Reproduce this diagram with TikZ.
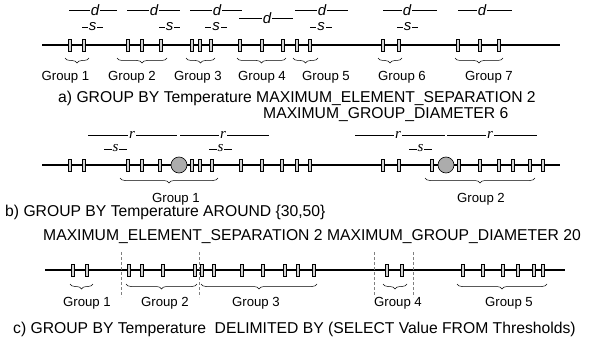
\documentclass[tikz,border=0pt]{standalone}
\usepackage{fontspec}
\setmainfont{Liberation Sans}
\newfontfamily\timesit{Liberation Serif}
\usetikzlibrary{decorations.pathreplacing}

\begin{document}
\begin{tikzpicture}[x=1pt,y=-1pt,
  axisline/.style={line width=2.1pt},
  elem/.style={draw,fill=gray!35,line width=0.5pt},
  centre/.style={draw,fill=gray!65,line width=0.6pt},
  meas/.style={line width=0.7pt},
  grp/.style={decorate,decoration={brace,mirror,amplitude=5pt},line width=0.5pt},
  lab/.style={font=\fontsize{13.2}{15}\selectfont,anchor=base,inner sep=0pt},
  captxt/.style={font=\fontsize{15.7}{18}\selectfont,anchor=base west,inner sep=0pt},
  dlab/.style={fill=white,inner sep=1pt,font=\fontsize{15}{15}\selectfont\itshape},
  rlab/.style={fill=white,inner sep=1pt,font=\fontsize{15}{15}\selectfont\timesit\itshape},
  delim/.style={gray,densely dashed,line width=0.6pt}]
  \useasboundingbox (0,0) rectangle (599,345);

  % a) separation and diameter
  \draw[axisline] (42,45) -- (560,45);
  \foreach \x in {70,84,128,142,161,192,200,211,240,262,283,297,310,383,399,458,480,499}
    \draw[elem] (\x-1.4,39) rectangle (\x+1.4,51.5);
  \foreach \a/\b/\m/\y [count=\i] in {69/117/95/10,127/180/154/10,190/242/217/10,
      239/293/267/18,295/348/322/10,383/437/407/10,458/512/482/10}
    {\draw[meas] (\a,\y) -- (\b,\y); \node[dlab] (da\i) at (\m,\y) {d};}
  \foreach \a/\b [count=\i] in {82/103,159/180,205/227,310/332,397/418}
    {\draw[meas] (\a,27) -- (\b,27); \node[dlab] (sa\i) at ({(\a+\b)/2},26.5) {s};}
  \foreach \a/\b/\m [count=\i] in {65/89/65.5,117/167/132,186/215/198,237/286/262,
      293/318/326,378/402/402,455/503/489}
    {\draw[grp] (\a,58) -- (\b,58); \node[lab] (ga\i) at (\m,80) {Group \i};}
  \node[captxt] (capa1) at (58,102) {a) GROUP BY Temperature MAXIMUM\_ELEMENT\_SEPARATION 2};
  \node[captxt] (capa2) at (263,118) {MAXIMUM\_GROUP\_DIAMETER 6};

  % b) around given centres
  \draw[axisline] (42,165) -- (560,165);
  \foreach \x in {70,84,128,142,160,192,200,212,241,262,282,297,310,383,399,432,459,480,499,513,530,543}
    \draw[elem] (\x-1.4,159) rectangle (\x+1.4,171.5);
  \foreach \x [count=\i] in {179,446}
    \draw[centre] (\x,165) circle (8);
  \foreach \a/\b/\m [count=\i] in {88/177/132,180/269/223,355/445/398,447/537/490}
    {\draw[meas] (\a,135) -- (\b,135); \node[rlab] (rb\i) at (\m,134.5) {r};}
  \foreach \a/\b [count=\i] in {104/127,209/232,409/432}
    {\draw[meas] (\a,149) -- (\b,149); \node[rlab] (sb\i) at ({(\a+\b)/2},148) {s};}
  \foreach \a/\b/\m [count=\i] in {120/218/176,425/535/481}
    {\draw[grp] (\a,178) -- (\b,178); \node[lab] (gb\i) at (\m,202) {Group \i};}
  \node[captxt] (capb1) at (5,216) {b) GROUP BY Temperature AROUND \{30,50\}};
  \node[captxt] (capb2) at (43,240) {MAXIMUM\_ELEMENT\_SEPARATION 2 MAXIMUM\_GROUP\_DIAMETER 20};

  % c) delimited by thresholds
  \draw[axisline] (45,270) -- (565,270);
  \foreach \x in {121,199,374,413}
    \draw[delim] (\x,252) -- (\x,297);
  \foreach \x in {73,87,129,142,163,195,202,214,242,263,285,298,314,387,402,463,483,503,518,534,543}
    \draw[elem] (\x-1.4,264) rectangle (\x+1.4,276.5);
  \foreach \a/\b/\m [count=\i] in {70/93/87,126/197/165,201/317/256,383/407/398,457/547/509}
    {\draw[grp] (\a,284) -- (\b,284); \node[lab] (gc\i) at (\m,306) {Group \i};}
  \node[captxt] (capc) at (13,333) {c) GROUP BY Temperature~~DELIMITED BY (SELECT Value FROM Thresholds)};
\end{tikzpicture}
\end{document}
